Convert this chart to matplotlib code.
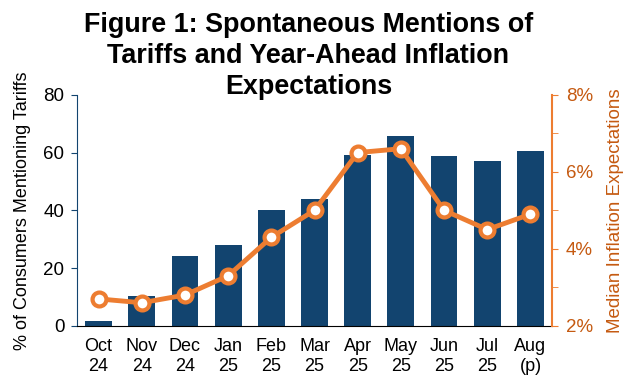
import matplotlib
matplotlib.use("Agg")
import matplotlib.pyplot as plt
from matplotlib.ticker import FuncFormatter

plt.rcParams['font.family'] = ['Liberation Sans', 'DejaVu Sans']

months = ["Oct\n24", "Nov\n24", "Dec\n24", "Jan\n25", "Feb\n25", "Mar\n25",
          "Apr\n25", "May\n25", "Jun\n25", "Jul\n25", "Aug\n(p)"]
tariff_mentions = [1.7, 10.2, 24.2, 28.0, 40.0, 43.9, 59.2, 65.6, 58.8, 57.0, 60.5]
inflation_exp = [2.7, 2.6, 2.8, 3.3, 4.3, 5.0, 6.5, 6.6, 5.0, 4.5, 4.9]

bar_color = "#12446F"
line_color = "#ED7D31"
label_orange = "#C55A11"

fig = plt.figure(figsize=(6.36, 3.87), dpi=100)
ax = fig.add_axes([0.121, 0.158, 0.747, 0.597])
x = range(len(months))
ax.bar(x, tariff_mentions, width=0.62, color=bar_color, zorder=2)
ax.set_xlim(-0.5, len(months) - 0.5)
ax.set_ylim(0, 80)
ax.set_yticks([0, 20, 40, 60, 80])
ax.set_xticks(list(x))
ax.set_xticklabels(months, fontsize=13, linespacing=1.2)
ax.tick_params(axis='x', length=0, pad=9)
ax.tick_params(axis='y', labelsize=13.5, colors=bar_color, labelcolor='black',
               direction='out', length=4, pad=5)
ax.set_ylabel("% of Consumers Mentioning Tariffs", fontsize=13, labelpad=9)
for s in ["top", "right"]:
    ax.spines[s].set_visible(False)
ax.spines["left"].set_color(bar_color)
ax.spines["bottom"].set_color("black")

ax2 = ax.twinx()
ax2.plot(x, inflation_exp, color=line_color, lw=3.5, marker='o', markersize=10,
         markerfacecolor='white', markeredgecolor=line_color, markeredgewidth=3, zorder=3)
ax2.set_ylim(2, 8)
ax2.set_yticks([2, 4, 6, 8])
ax2.set_yticks([3, 5, 7], minor=True)
ax2.yaxis.set_major_formatter(FuncFormatter(lambda v, p: f"{v:.0f}%"))
ax2.tick_params(axis='y', which='both', colors=line_color, labelcolor=label_orange,
                labelsize=13.5, length=4, direction='out', pad=6)
ax2.set_ylabel("Median Inflation Expectations", fontsize=13.5, color=label_orange, labelpad=10)
for s in ["top", "left", "bottom"]:
    ax2.spines[s].set_visible(False)
ax2.spines["right"].set_color(line_color)
ax2.spines["right"].set_linewidth(1.5)

fig.suptitle("Figure 1: Spontaneous Mentions of\nTariffs and Year-Ahead Inflation\nExpectations",
             x=0.485, y=0.97, fontsize=19.4, fontweight='bold', linespacing=1.25)

fig.savefig("out.png", dpi=100)
